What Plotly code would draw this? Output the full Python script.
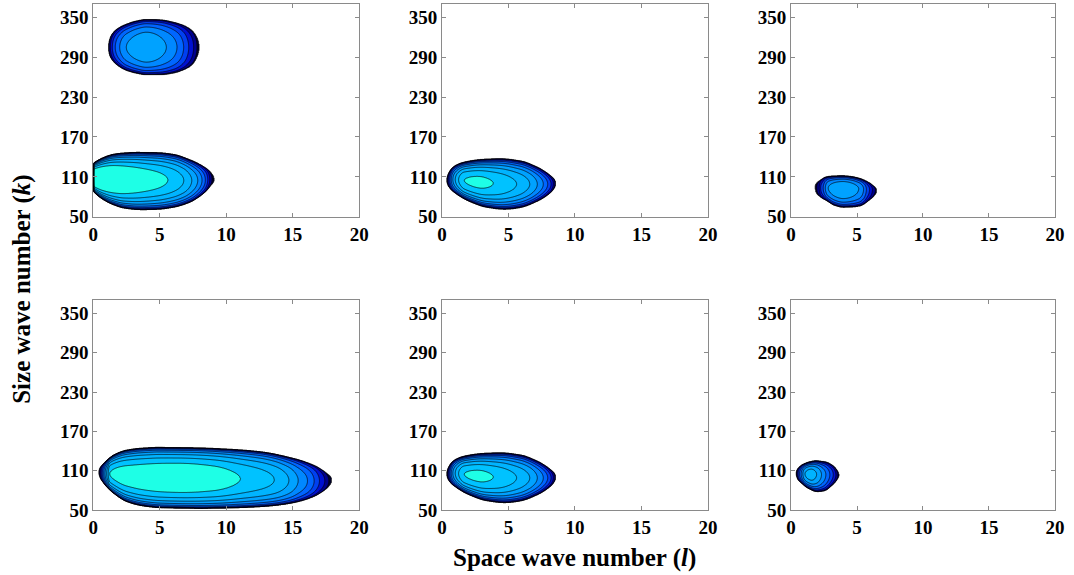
import numpy as np
import plotly.graph_objects as go

# ---------------- data ----------------
x_ticks = [0, 5, 10, 15, 20]
y_ticks = [50, 110, 170, 230, 290, 350]
x_range = [0, 20]
y_range = [50, 370]

# contour levels (shared by all panels) and band colours (lowest band first)
level_start, level_end, level_step = 0.0, 0.9, 0.1
band_colors = ["#00002a", "#00008c", "#0010d0", "#0040f0", "#0066ff",
               "#0088ff", "#00a2ff", "#00b4ff", "#00c2ff", "#1effe6"]

# Each blob: outline (l, top k, bottom k, ridge k), ridge profile (lp, P) and vertical exponent
tl_upper_l    = [1.13, 1.2, 1.4, 1.8, 2.5, 3.2, 4.0, 5.0, 6.0, 6.8, 7.4, 7.8, 7.97]
tl_upper_ktop = [306, 316, 325, 333, 340, 344.5, 347, 346.5, 343, 338, 331, 320, 306]
tl_upper_kbot = [306, 294, 286, 278, 270, 266, 263.5, 263.5, 266, 271, 278, 290, 306]
tl_upper_kc   = [305, 305, 305, 305, 305, 305, 305, 305, 305, 305, 305, 305, 305]
tl_upper_lp   = [1.13, 1.18, 1.28, 1.43, 1.65, 1.98, 2.48, 4.0, 5.49, 6.29, 6.79, 7.17, 7.54, 7.79, 7.97]
tl_upper_P    = [0, 0.1, 0.2, 0.3, 0.4, 0.5, 0.6, 0.7, 0.6, 0.5, 0.4, 0.3, 0.2, 0.1, 0]

tl_lower_l    = [0, 0.8, 1.5, 2.3, 3.5, 4.8, 6.0, 7.3, 8.3, 8.9, 9.1]
tl_lower_ktop = [130.5, 139.5, 144, 146, 147, 146.5, 144, 135.5, 125.5, 115.5, 106]
tl_lower_kbot = [88, 75, 68, 63, 60.5, 61, 64, 72, 85, 98, 106]
tl_lower_kc   = [108, 107.5, 107, 106.5, 106, 105.5, 105, 104.5, 105, 106, 106]
tl_lower_lp   = [0, 3.0, 5.6, 6.8, 7.4, 7.85, 8.17, 8.42, 8.6, 8.75, 8.92, 9.1]
tl_lower_P    = [1.1, 1.0, 0.9, 0.8, 0.7, 0.6, 0.5, 0.4, 0.3, 0.2, 0.1, 0]

mid_l    = [0.35, 0.85, 2.1, 3.36, 4.6, 5.86, 7.12, 8.12, 8.57]
mid_ktop = [105, 125, 134, 136.8, 137.3, 134.3, 125.3, 112.8, 100]
mid_kbot = [105, 87.6, 72.6, 64.1, 61.1, 63.5, 72.6, 85.2, 100]
mid_kc   = [105, 106, 103.5, 101, 99.5, 99, 99, 99, 100]
mid_lp   = [0.35, 0.4, 0.45, 0.52, 0.6, 0.7, 0.82, 1.0, 1.25, 1.68, 2.77, 3.86,
            5.61, 6.6, 7.17, 7.62, 7.95, 8.2, 8.37, 8.5, 8.57]
mid_P    = [0, 0.1, 0.2, 0.3, 0.4, 0.5, 0.6, 0.7, 0.8, 0.9, 0.93, 0.9,
            0.8, 0.7, 0.6, 0.5, 0.4, 0.3, 0.2, 0.1, 0]

tr_l    = [1.81, 1.9, 2.19, 2.7, 3.3, 3.95, 4.6, 5.2, 5.96, 6.3, 6.51]
tr_ktop = [95, 100, 105, 110.2, 111.5, 111.7, 110.5, 107.8, 101, 96, 90]
tr_kbot = [95, 86, 80, 74, 67, 64.1, 64.5, 66, 75.1, 81, 90]
tr_kc   = [95, 94, 93.5, 93, 92.8, 92.7, 92.5, 92, 91, 90.5, 90]
tr_lp   = [1.81, 1.95, 2.14, 2.25, 2.44, 2.6, 2.82, 3.95, 5.13, 5.5, 5.71, 5.95, 6.17, 6.39, 6.51]
tr_P    = [0, 0.1, 0.2, 0.3, 0.4, 0.5, 0.6, 0.7, 0.6, 0.5, 0.4, 0.3, 0.2, 0.1, 0]

bl_l    = [0.4, 0.78, 1.53, 2.53, 3.78, 5.04, 7.54, 10.05, 12.56, 15.06, 16.56, 17.57, 17.94]
bl_ktop = [107.5, 121.2, 133.9, 141.5, 144.6, 145.6, 145, 143, 139, 128.8, 118.6, 106, 95.7]
bl_kbot = [107.5, 90.7, 75.4, 62.7, 56.1, 53.5, 52.5, 53, 55, 61.1, 70.3, 83, 95.7]
bl_kc   = [107.5, 106, 104.6, 102.1, 100.3, 99.5, 98.8, 98, 97, 95, 94.5, 94.5, 95.7]
bl_lp   = [0.4, 0.46, 0.53, 0.6, 0.68, 0.78, 0.88, 1.0, 1.12, 1.23, 3.0, 6.5, 9.0,
           11.05, 13.6, 14.7, 15.4, 16.1, 16.6, 17.0, 17.4, 17.7, 17.94]
bl_P    = [0, 0.1, 0.2, 0.3, 0.4, 0.5, 0.6, 0.7, 0.8, 0.9, 0.97, 1.0, 0.97,
           0.9, 0.8, 0.7, 0.6, 0.5, 0.4, 0.3, 0.2, 0.1, 0]

br_l    = [0.38, 0.5, 0.8, 1.3, 1.94, 2.5, 3.15, 3.5, 3.65]
br_ktop = [106, 113, 118.6, 123, 125.2, 124, 118.6, 111, 103.4]
br_kbot = [106, 97, 90.7, 83, 78, 79, 88, 96, 103.4]
br_kc   = [106, 105.5, 105, 105, 104.5, 104, 104, 103.6, 103.4]
br_lp   = [0.38, 0.42, 0.47, 0.54, 0.64, 0.77, 0.9, 1.06, 1.5, 1.94, 2.31, 2.64, 2.94, 3.2, 3.4, 3.55, 3.65]
br_P    = [0, 0.1, 0.2, 0.3, 0.4, 0.5, 0.6, 0.7, 0.76, 0.7, 0.6, 0.5, 0.4, 0.3, 0.2, 0.1, 0]

blobs_by_panel = [
    [(tl_upper_l, tl_upper_ktop, tl_upper_kbot, tl_upper_kc, tl_upper_lp, tl_upper_P, 0.45),
     (tl_lower_l, tl_lower_ktop, tl_lower_kbot, tl_lower_kc, tl_lower_lp, tl_lower_P, 0.45)],
    [(mid_l, mid_ktop, mid_kbot, mid_kc, mid_lp, mid_P, 0.5)],
    [(tr_l, tr_ktop, tr_kbot, tr_kc, tr_lp, tr_P, 0.45)],
    [(bl_l, bl_ktop, bl_kbot, bl_kc, bl_lp, bl_P, 0.4)],
    [(mid_l, mid_ktop, mid_kbot, mid_kc, mid_lp, mid_P, 0.5)],
    [(br_l, br_ktop, br_kbot, br_kc, br_lp, br_P, 0.5)],
]

x_title = "<b>Space wave number (<i>l</i>)</b>"
y_title = "<b>Size wave number (<i>k</i>)</b>"


# ---------------- smooth (monotone cubic) interpolation of the read samples ----------------
def pchip(x, y, xq):
    x = np.asarray(x, float)
    y = np.asarray(y, float)
    xq = np.asarray(xq, float)
    h = np.diff(x)
    d = np.diff(y) / h
    n = len(x)
    m = np.zeros(n)
    for i in range(1, n - 1):
        if d[i - 1] * d[i] > 0:
            w1 = 2 * h[i] + h[i - 1]
            w2 = h[i] + 2 * h[i - 1]
            m[i] = (w1 + w2) / (w1 / d[i - 1] + w2 / d[i])
    m[0] = d[0]
    m[-1] = d[-1]
    xc = np.clip(xq, x[0], x[-1])
    i = np.clip(np.searchsorted(x, xc) - 1, 0, n - 2)
    hh = h[i]
    t = (xc - x[i]) / hh
    h00 = 2 * t**3 - 3 * t**2 + 1
    h10 = t**3 - 2 * t**2 + t
    h01 = -2 * t**3 + 3 * t**2
    h11 = t**3 - t**2
    return h00 * y[i] + h10 * hh * m[i] + h01 * y[i + 1] + h11 * hh * m[i + 1]


def blob_field(blob):
    l, ktop, kbot, kc, lp, P, p = blob
    ktop, kbot, kc = (np.asarray(a, float) for a in (ktop, kbot, kc))
    lmin, lmax = min(l), max(l)
    lg = np.arange(max(0.0, lmin - 0.3), lmax + 0.3, 0.04)
    kg = np.arange(min(kbot) - 8, max(ktop) + 8, 0.5)
    L, K = np.meshgrid(lg, kg)
    mid = pchip(l, kc, L)
    # squared half-heights interpolated -> rounded ends
    up2 = np.clip(pchip(l, (ktop - kc) ** 2, L), 0, None)
    dn2 = np.clip(pchip(l, (kc - kbot) ** 2, L), 0, None)
    pr = np.clip(pchip(lp, P, L), 0, None)
    span = np.sqrt(np.where(K >= mid, up2, dn2))
    span = np.maximum(span, 1e-6)
    v = np.abs(K - mid) / span
    s = 1 - v ** 2
    inside = (s > 0) & (L > lmin) & (L < lmax) & (pr > 0)
    z = np.where(inside, pr * np.clip(s, 0, None) ** p, -0.3)
    return lg, kg, np.round(z, 3)


nband = len(band_colors)
colorscale = [[0.0, "#ffffff"]] + [[(i + 1) / nband, c] for i, c in enumerate(band_colors)]

x_domains = [[0.0869, 0.3346], [0.4115, 0.6592], [0.7365, 0.9823]]
y_domains = [[0.6231, 0.9929], [0.1130, 0.4779]]

fig = go.Figure()
for idx, blobs in enumerate(blobs_by_panel):
    ax = "" if idx == 0 else str(idx + 1)
    for b in blobs:
        lg, kg, z = blob_field(b)
        fig.add_trace(go.Contour(
            x=lg, y=kg, z=z,
            xaxis="x" + ax, yaxis="y" + ax,
            autocontour=False,
            contours=dict(start=level_start, end=level_end, size=level_step,
                          coloring="fill", showlines=True),
            colorscale=colorscale, showscale=False,
            line=dict(color="black", width=0.7),
            hoverinfo="skip",
        ))

axis_common = dict(
    showgrid=False, zeroline=False, showline=True, linecolor="#8a8a8a", linewidth=1,
    mirror="allticks", ticks="inside", ticklen=4, tickcolor="#8a8a8a", automargin=False,
    tickfont=dict(family="Liberation Serif", size=19, color="black", weight="bold"),
)
layout = dict(
    width=1074, height=575, margin=dict(l=0, r=0, t=0, b=0, autoexpand=False),
    paper_bgcolor="white", plot_bgcolor="white", showlegend=False,
)
for idx in range(6):
    r, c = divmod(idx, 3)
    n = "" if idx == 0 else str(idx + 1)
    layout["xaxis" + n] = dict(axis_common, domain=x_domains[c], range=x_range,
                               tickvals=x_ticks, anchor="y" + n)
    layout["yaxis" + n] = dict(axis_common, domain=y_domains[r], range=y_range,
                               tickvals=y_ticks, anchor="x" + n)
fig.update_layout(**layout)

fig.add_annotation(text=x_title, xref="paper", yref="paper", x=0.535, y=0.029,
                   xanchor="center", yanchor="middle", showarrow=False,
                   font=dict(family="Liberation Serif", size=25, color="black"))
fig.add_annotation(text=y_title, xref="paper", yref="paper", x=0.0205, y=0.496,
                   xanchor="center", yanchor="middle", textangle=-90, showarrow=False,
                   font=dict(family="Liberation Serif", size=25, color="black"))

fig.write_html("out.html", config={"displayModeBar": False},
               post_script="document.body.style.margin='0';document.body.style.overflow='hidden';")
